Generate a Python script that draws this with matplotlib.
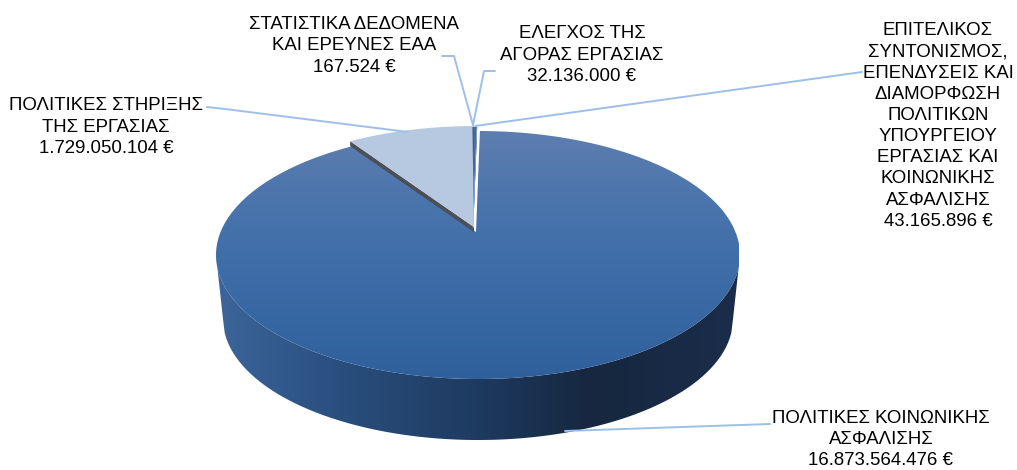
import numpy as np
import matplotlib
matplotlib.use("Agg")
import matplotlib.pyplot as plt
from matplotlib.colors import LinearSegmentedColormap
from matplotlib.patches import Polygon

plt.rcParams['font.family'] = ['Liberation Sans', 'DejaVu Sans']

# Data
categories = ["ΠΟΛΙΤΙΚΕΣ ΚΟΙΝΩΝΙΚΗΣ\nΑΣΦΑΛΙΣΗΣ",
              "ΠΟΛΙΤΙΚΕΣ ΣΤΗΡΙΞΗΣ\nΤΗΣ ΕΡΓΑΣΙΑΣ",
              "ΕΠΙΤΕΛΙΚΟΣ\nΣΥΝΤΟΝΙΣΜΟΣ,\nΕΠΕΝΔΥΣΕΙΣ ΚΑΙ\nΔΙΑΜΟΡΦΩΣΗ\nΠΟΛΙΤΙΚΩΝ\nΥΠΟΥΡΓΕΙΟΥ\nΕΡΓΑΣΙΑΣ ΚΑΙ\nΚΟΙΝΩΝΙΚΗΣ\nΑΣΦΑΛΙΣΗΣ",
              "ΕΛΕΓΧΟΣ ΤΗΣ\nΑΓΟΡΑΣ ΕΡΓΑΣΙΑΣ",
              "ΣΤΑΤΙΣΤΙΚΑ ΔΕΔΟΜΕΝΑ\nΚΑΙ ΕΡΕΥΝΕΣ ΕΑΑ"]
values = [16873564476, 1729050104, 43165896, 32136000, 167524]
value_labels = ["16.873.564.476 €", "1.729.050.104 €", "43.165.896 €", "32.136.000 €", "167.524 €"]

W, H = 1017, 470
fig = plt.figure(figsize=(W / 100, H / 100), dpi=100)
ax = fig.add_axes([0, 0, 1, 1])
ax.set_xlim(0, W)
ax.set_ylim(H, 0)
ax.axis("off")

# Projection of the tilted disc
CX, CY, RX, RY = 478, 255, 262, 124
B = 0.185          # perspective shift of the disc centre
START = 0.5        # first slice angle, degrees clockwise from top
APEX_X = 476


def project(theta_deg, r=1.0):
    t = np.radians(theta_deg)
    u, v = r * np.sin(t), r * np.cos(t)
    d = 1 + B * v
    return CX + RX * u * np.sqrt(1 - B ** 2) / d, CY - RY * (v + B) / d


def wedge(a0, a1, dx=0, dy=0):
    th = np.linspace(a0, a1, max(int(abs(a1 - a0) * 2), 4))
    x, y = project(th)
    _, ay0 = project(0, 0)
    return np.column_stack([np.r_[APEX_X, x] + dx, np.r_[ay0, y] + dy])


shares = np.array(values, dtype=float) / np.sum(values) * 360
edges = START + np.r_[0, np.cumsum(shares)]
edges[-1] = START + 360

# side wall
lx = np.linspace(-1, 1, 300)
top_low_x = CX + RX * lx
top_low_y = CY + RY * np.sqrt(1 - lx ** 2)
BCY, BRX, BRY = 319, 255, 121
bot_low_x = CX + BRX * lx
bot_low_y = BCY + BRY * np.sqrt(1 - lx ** 2)
side = np.column_stack([np.r_[CX - RX, bot_low_x, CX + RX, top_low_x[::-1]],
                        np.r_[CY, bot_low_y, CY, top_low_y[::-1]]])
side_cmap = LinearSegmentedColormap.from_list(
    "side", [(0, "#3C659B"), (0.2, "#2B5282"), (0.5, "#1E3A60"), (0.72, "#16273F"), (1, "#1A2D4A")])
im = ax.imshow(np.linspace(0, 1, 256)[None, :], extent=[216, 739, 445, 250], cmap=side_cmap,
               aspect="auto", zorder=1)
clip = Polygon(side, closed=True, transform=ax.transData, fc="none", ec="none")
ax.add_patch(clip)
im.set_clip_path(clip)

# main slice top face
top_cmap = LinearSegmentedColormap.from_list(
    "top", [(0, "#5E7EAF"), (0.3, "#4A74AC"), (0.55, "#3E6DA8"), (1, "#30609C")])
main_poly = wedge(edges[0], edges[1])
im2 = ax.imshow(np.linspace(0, 1, 256)[:, None], extent=[216, 739, 380, 130], cmap=top_cmap,
                aspect="auto", zorder=2)
clip2 = Polygon(main_poly, closed=True, transform=ax.transData, fc="none", ec="none")
ax.add_patch(clip2)
im2.set_clip_path(clip2)

# second slice, pulled out, with its cut-face
DX, DY = -2, -5
_, ay0 = project(0, 0)
ex, ey = project(edges[1])
cut = [[APEX_X + DX, ay0 + DY], [ex + DX, ey + DY], [ex + DX, ey + DY + 5], [APEX_X + DX, ay0 + DY + 5]]
ax.add_patch(Polygon(cut, closed=True, fc="#4A4F58", ec="none", zorder=3))
ax.add_patch(Polygon(wedge(edges[1], edges[2], DX, DY), closed=True, fc="#B7C9E0", ec="none", zorder=5))

# tiny slices, behind the pale slice
slice_cols = ["#3F5F90", "#46689A", "#7F99BF"]
for i, c in zip(range(2, 5), slice_cols):
    ax.add_patch(Polygon(wedge(edges[i], edges[i + 1], -3, -4), closed=True, fc=c, ec=c, lw=0.4, zorder=4))

# leader lines
leader = dict(color="#9DBFE8", lw=1.4, zorder=6, solid_capstyle="round")
ax.plot([207, 225, 408], [107, 109, 132], **leader)
ax.plot([442, 454, 473], [56, 56, 125], **leader)
ax.plot([495, 484, 473], [71, 71, 125], **leader)
ax.plot([862, 475], [72, 126], **leader)
ax.plot([565, 770], [431, 424], **leader)

# labels
fs = 13.4
pos = [(881, 439.5), (106, 127), (938, 126), (582, 55), (354, 46)]
for cat, val, (x, y) in zip(categories, value_labels, pos):
    ax.text(x, y, cat + "\n" + val, ha="center", va="center", fontsize=fs, color="#000000",
            linespacing=1.32, zorder=7)

fig.savefig("out.png", dpi=100, facecolor="white")
